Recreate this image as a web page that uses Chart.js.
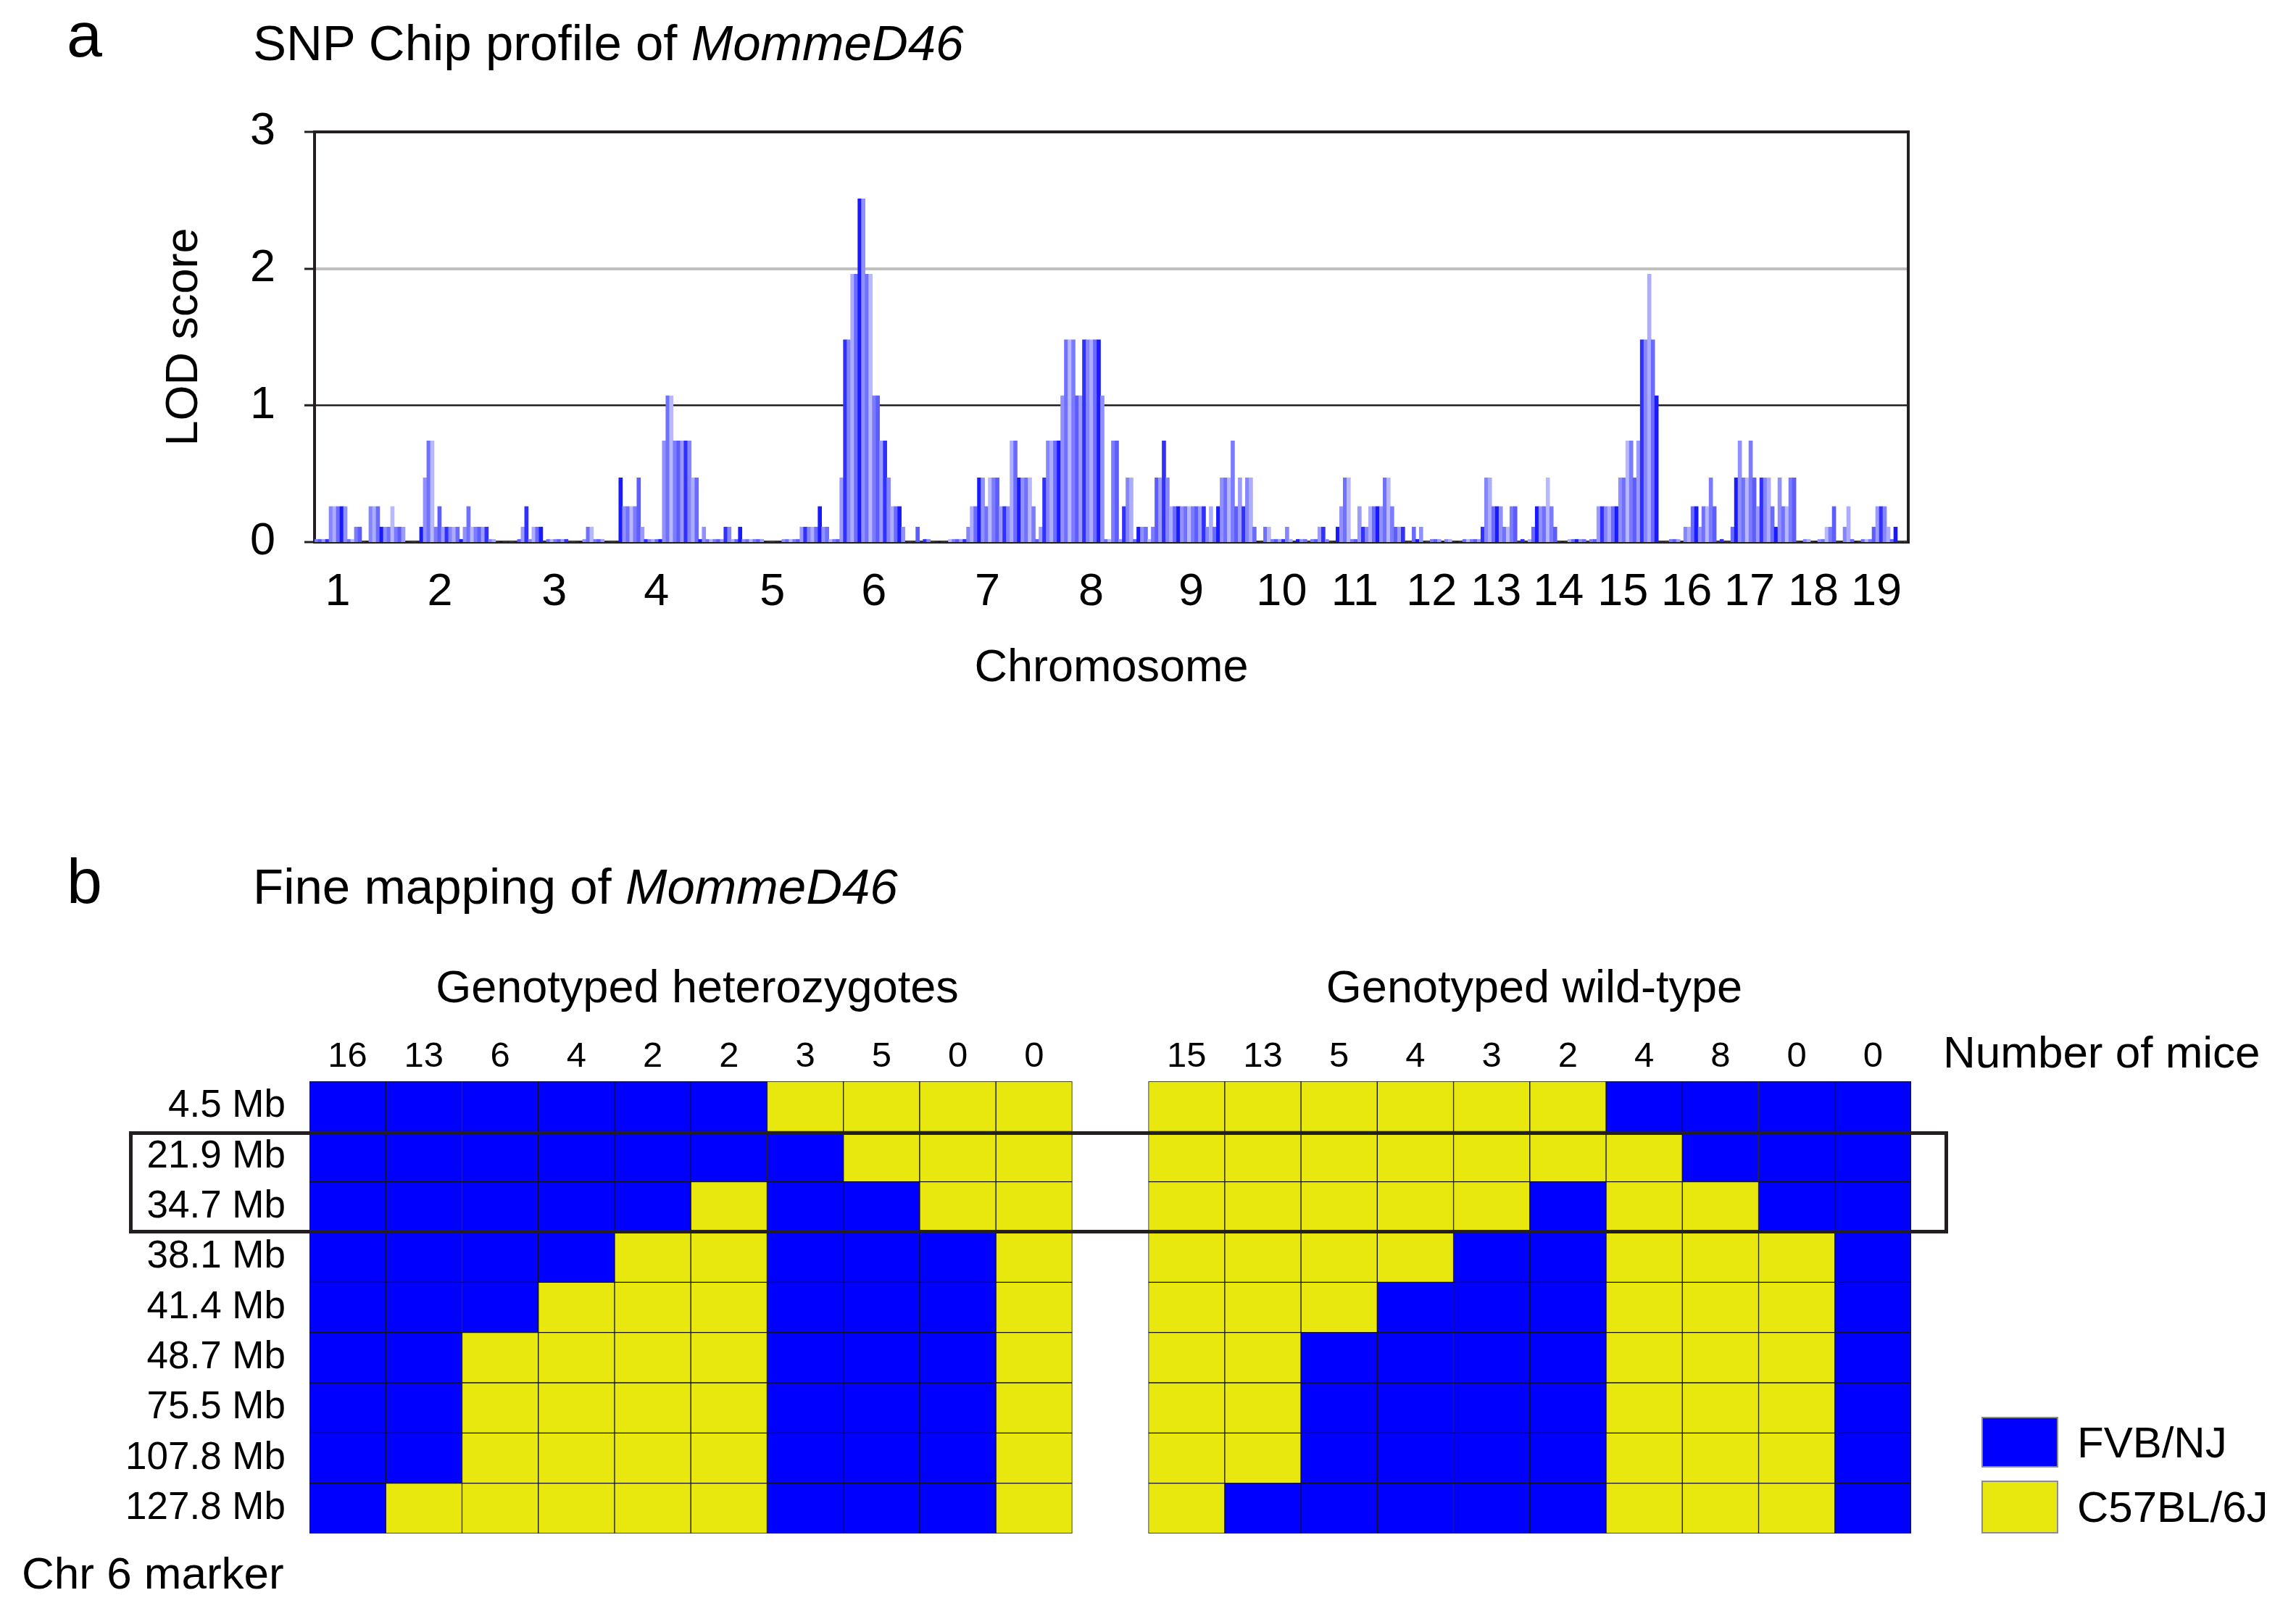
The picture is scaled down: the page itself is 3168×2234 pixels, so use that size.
<!DOCTYPE html>
<html>
<head>
<meta charset="utf-8">
<title>MommeD46 SNP profile and fine mapping</title>
<script src="https://cdn.jsdelivr.net/npm/chart.js@4.4.1/dist/chart.umd.min.js"></script>
<style>
  html, body { margin: 0; padding: 0; background: #fff; }
  body { width: 3168px; height: 2234px; position: relative; overflow: hidden;
         font-family: Arial, "Liberation Sans", sans-serif; color: #000; }
  .txt { position: absolute; line-height: 1; white-space: nowrap; }
  .mid { transform: translateX(-50%); }
  .swatch { position: absolute; box-sizing: border-box; border: 2px solid #8c8c8c; }
  #wrapA { position: absolute; left: 0; top: 0; width: 3168px; height: 1000px; }
  #wrapB { position: absolute; left: 0; top: 1180px; width: 3168px; height: 1054px; }
  #region { position: absolute; left: 178px; top: 1561px; width: 2510px; height: 141px;
            box-sizing: border-box; border: 5px solid #231f20; }
</style>
</head>
<body>
<div class="txt" style="left:92px;top:4px;font-size:88px">a</div>
<div class="txt" style="left:349px;top:25px;font-size:69px">SNP Chip profile of <i>MommeD46</i></div>
<div id="wrapA"><canvas id="lodChart"></canvas></div>

<div class="txt" style="left:92px;top:1172px;font-size:88px">b</div>
<div class="txt" style="left:349px;top:1189px;font-size:69px">Fine mapping of <i>MommeD46</i></div>
<div class="txt mid" style="left:962px;top:1330px;font-size:63px">Genotyped heterozygotes</div>
<div class="txt mid" style="left:2117px;top:1330px;font-size:63px">Genotyped wild-type</div>
<div class="txt" style="left:2681px;top:1421px;font-size:62px">Number of mice</div>
<div id="wrapB"><canvas id="mapChart"></canvas></div>
<div id="region"></div>
<div class="txt" style="left:30px;top:2140px;font-size:62px">Chr 6 marker</div>

<div class="swatch" style="left:2734px;top:1955px;width:106px;height:70px;background:#0000ff"></div>
<div class="swatch" style="left:2734px;top:2043px;width:106px;height:73px;background:#e8e80e"></div>
<div class="txt" style="left:2866px;top:1961px;font-size:60px">FVB/NJ</div>
<div class="txt" style="left:2866px;top:2050px;font-size:60px">C57BL/6J</div>

<script>
// LOD score per genome bin (440 equal bins, chr1 -> chr19)
const lod = [
  0.02, 0.02, 0.02, 0.02, 0.26, 0.26, 0.26, 0.26, 0.26, 0.02,
  0.02, 0.11, 0.11, 0, 0, 0.26, 0.26, 0.26, 0.11, 0.11,
  0.11, 0.26, 0.11, 0.11, 0.11, 0, 0, 0, 0, 0.11,
  0.47, 0.74, 0.74, 0.11, 0.26, 0.11, 0.11, 0.11, 0.11, 0.11,
  0.02, 0.11, 0.26, 0.11, 0.11, 0.11, 0.11, 0.11, 0.02, 0.02,
  0, 0, 0, 0, 0, 0, 0.02, 0.11, 0.26, 0.02,
  0.11, 0.11, 0.11, 0, 0.02, 0.02, 0.02, 0.02, 0.02, 0.02,
  0, 0, 0, 0, 0.02, 0.11, 0.11, 0.02, 0.02, 0.02,
  0, 0, 0, 0, 0.47, 0.26, 0.26, 0.26, 0.26, 0.47,
  0.11, 0.02, 0.02, 0.02, 0.02, 0.02, 0.74, 1.07, 1.07, 0.74,
  0.74, 0.74, 0.74, 0.74, 0.47, 0.47, 0.02, 0.11, 0.02, 0.02,
  0.02, 0.02, 0.02, 0.11, 0.11, 0.02, 0.02, 0.11, 0.02, 0.02,
  0.02, 0.02, 0.02, 0.02, 0, 0, 0, 0, 0, 0.02,
  0.02, 0.02, 0.02, 0.02, 0.11, 0.11, 0.11, 0.11, 0.11, 0.26,
  0.11, 0.11, 0.02, 0.02, 0.02, 0.47, 1.48, 1.48, 1.96, 1.96,
  2.51, 2.51, 1.96, 1.96, 1.07, 1.07, 0.74, 0.74, 0.47, 0.26,
  0.26, 0.26, 0.11, 0, 0, 0, 0.11, 0, 0.02, 0.02,
  0, 0, 0, 0, 0, 0.02, 0.02, 0.02, 0.02, 0.02,
  0.11, 0.26, 0.26, 0.47, 0.47, 0.26, 0.47, 0.47, 0.47, 0.26,
  0.26, 0.26, 0.74, 0.74, 0.47, 0.47, 0.47, 0.47, 0.26, 0.02,
  0.11, 0.47, 0.74, 0.74, 0.74, 0.74, 1.07, 1.48, 1.48, 1.48,
  1.07, 1.07, 1.48, 1.48, 1.48, 1.48, 1.48, 1.07, 0.02, 0.02,
  0.74, 0.74, 0.02, 0.26, 0.47, 0.47, 0.02, 0.11, 0.11, 0.11,
  0.02, 0.11, 0.47, 0.47, 0.74, 0.47, 0.26, 0.26, 0.26, 0.26,
  0.26, 0.26, 0.26, 0.26, 0.26, 0.26, 0.11, 0.26, 0.11, 0.26,
  0.47, 0.47, 0.47, 0.74, 0.26, 0.47, 0.26, 0.47, 0.47, 0.11,
  0, 0, 0.11, 0.11, 0.02, 0.02, 0.02, 0.02, 0.11, 0.02,
  0, 0.02, 0.02, 0.02, 0, 0.02, 0.02, 0.11, 0.11, 0.02,
  0, 0, 0.11, 0.26, 0.47, 0.47, 0.02, 0.02, 0.26, 0.11,
  0.11, 0.26, 0.26, 0.26, 0.26, 0.47, 0.47, 0.26, 0.11, 0.11,
  0.11, 0, 0, 0.11, 0.02, 0.11, 0, 0, 0.02, 0.02,
  0.02, 0, 0.02, 0.02, 0, 0, 0, 0.02, 0.02, 0.02,
  0.02, 0.02, 0.11, 0.47, 0.47, 0.26, 0.26, 0.26, 0.11, 0.11,
  0.26, 0.26, 0, 0.02, 0, 0.02, 0.11, 0.26, 0.26, 0.26,
  0.47, 0.26, 0.11, 0, 0, 0, 0.02, 0.02, 0.02, 0.02,
  0.02, 0, 0.02, 0.02, 0.26, 0.26, 0.26, 0.26, 0.26, 0.26,
  0.47, 0.47, 0.74, 0.74, 0.47, 0.74, 1.48, 1.48, 1.96, 1.48,
  1.07, 0, 0, 0, 0.02, 0.02, 0.02, 0, 0.11, 0.11,
  0.26, 0.26, 0.11, 0.26, 0.26, 0.47, 0.26, 0, 0.02, 0,
  0, 0.11, 0.47, 0.74, 0.47, 0.47, 0.74, 0.47, 0.26, 0.47,
  0.47, 0.47, 0.26, 0.11, 0.47, 0.26, 0.26, 0.47, 0.47, 0,
  0, 0.02, 0.02, 0, 0, 0.02, 0.02, 0.11, 0.11, 0.26,
  0, 0, 0.11, 0.26, 0.02, 0, 0, 0.02, 0.02, 0.02,
  0.11, 0.26, 0.26, 0.26, 0.11, 0.02, 0.11, 0, 0, 0,
];

const chromosomes = ['1', '2', '3', '4', '5', '6', '7', '8', '9', '10',
  '11', '12', '13', '14', '15', '16', '17', '18', '19'];
// where each chromosome label sits along the bin axis
const chromosomeLabelAt = [6.4, 34.6, 66.2, 94.4, 126.4, 154.4, 185.8, 214.4, 242, 267,
  287.2, 308.4, 326.2, 343.4, 361.2, 378.8, 396.2, 413.8, 431.2];
const lodTicks = [0, 1, 2, 3];

// fine mapping: F = FVB/NJ, C = C57BL/6J
const markers = ['4.5 Mb', '21.9 Mb', '34.7 Mb', '38.1 Mb', '41.4 Mb',
  '48.7 Mb', '75.5 Mb', '107.8 Mb', '127.8 Mb'];
const hetCounts = [16, 13, 6, 4, 2, 2, 3, 5, 0, 0];
const wtCounts = [15, 13, 5, 4, 3, 2, 4, 8, 0, 0];
const hetGenotypes = [
  'FFFFFFCCCC',
  'FFFFFFFCCC',
  'FFFFFCFFCC',
  'FFFFCCFFFC',
  'FFFCCCFFFC',
  'FFCCCCFFFC',
  'FFCCCCFFFC',
  'FFCCCCFFFC',
  'FCCCCCFFFC',
];
const wtGenotypes = [
  'CCCCCCFFFF',
  'CCCCCCCFFF',
  'CCCCCFCCFF',
  'CCCCFFCCCF',
  'CCCFFFCCCF',
  'CCFFFFCCCF',
  'CCFFFFCCCF',
  'CCFFFFCCCF',
  'CFFFFFCCCF',
];

const FONT = 'Arial, "Liberation Sans", sans-serif';
const AXIS = '#231f20';
const STRAIN_COLORS = { F: '#0000ff', C: '#e8e80e' };
const barShades = ['#7b7bff', '#5c5cff', '#9a9aff', '#3030ff', '#8585ff', '#adadff',
  '#6a6aff', '#1a1aff', '#9090ff', '#7070ff', '#b8b8ff'];

Chart.defaults.font.family = FONT;
Chart.defaults.color = '#000';
Chart.defaults.animation = false;

const frame = {
  id: 'frame',
  afterDraw(chart) {
    const { ctx, chartArea: a } = chart;
    ctx.save();
    ctx.strokeStyle = AXIS;
    ctx.lineWidth = 4;
    ctx.beginPath();
    ctx.moveTo(a.left - 2, a.top);
    ctx.lineTo(a.right, a.top);
    ctx.lineTo(a.right, a.bottom + 2);
    ctx.stroke();
    ctx.restore();
  },
};

new Chart(document.getElementById('lodChart'), {
  type: 'bar',
  data: {
    datasets: [{
      data: lod.map((v, i) => ({ x: i + 0.5, y: v })),
      backgroundColor: (c) => barShades[c.dataIndex % barShades.length],
      borderWidth: 0,
      barPercentage: 1,
      categoryPercentage: 1,
    }],
  },
  options: {
    responsive: true,
    maintainAspectRatio: false,
    events: [],
    layout: { padding: { top: 182, right: 535, bottom: 0, left: 0 } },
    plugins: { legend: { display: false }, tooltip: { enabled: false } },
    scales: {
      x: {
        type: 'linear',
        min: 0,
        max: lod.length,
        offset: false,
        z: 1,
        afterBuildTicks: (s) => { s.ticks = chromosomeLabelAt.map((v) => ({ value: v })); },
        afterFit: (s) => { s.height = 252; },
        ticks: {
          autoSkip: false,
          maxRotation: 0,
          padding: 32,
          font: { size: 63 },
          callback: (v, i) => chromosomes[i],
        },
        grid: { display: false, drawTicks: false },
        border: { display: true, color: AXIS, width: 4 },
        title: { display: true, text: 'Chromosome', font: { size: 63 }, padding: { top: 0, bottom: 40 } },
      },
      y: {
        min: 0,
        max: 3,
        z: 1,
        afterBuildTicks: (s) => { s.ticks = lodTicks.map((v) => ({ value: v })); },
        afterFit: (s) => { s.width = 434; },
        ticks: { padding: 40, font: { size: 63 } },
        grid: {
          color: (c) => (c.tick.value === 2 ? '#bfbfbf' : AXIS),
          lineWidth: (c) => (c.tick.value === 2 ? 4 : c.tick.value === 1 ? 2.5 : 0),
          tickColor: AXIS,
          tickWidth: 3,
          tickLength: 14,
        },
        border: { display: true, color: AXIS, width: 4 },
        title: { display: true, text: 'LOD score', font: { size: 63 }, padding: { top: 217, bottom: 0 } },
      },
    },
  },
  plugins: [frame],
});

// one stacked dataset per marker row; the empty middle column separates the two groups
const mapColumns = hetCounts.map(String).concat([''], wtCounts.map(String));
const mapRows = markers.map((m, r) => (hetGenotypes[r] + ' ' + wtGenotypes[r]).split(''));

new Chart(document.getElementById('mapChart'), {
  type: 'bar',
  data: {
    labels: mapColumns,
    datasets: mapRows.map((row, r) => ({
      label: markers[r],
      data: row.map((g) => (g === ' ' ? null : 1)),
      backgroundColor: row.map((g) => STRAIN_COLORS[g] || 'rgba(0,0,0,0)'),
      borderColor: '#141414',
      borderWidth: 1,
      borderSkipped: false,
      barPercentage: 1,
      categoryPercentage: 1,
    })),
  },
  options: {
    responsive: true,
    maintainAspectRatio: false,
    events: [],
    layout: { padding: { top: 212, right: 531, bottom: 118, left: 0 } },
    plugins: { legend: { display: false }, tooltip: { enabled: false } },
    scales: {
      x: {
        position: 'top',
        stacked: true,
        afterFit: (s) => { s.height = 100; },
        ticks: { autoSkip: false, maxRotation: 0, padding: 4, font: { size: 49 } },
        grid: { display: false, drawTicks: false },
        border: { display: false },
      },
      y: {
        stacked: true,
        reverse: true,
        min: 0,
        max: markers.length,
        afterBuildTicks: (s) => { s.ticks = markers.map((m, i) => ({ value: i + 0.5 })); },
        afterFit: (s) => { s.width = 427; },
        ticks: { padding: 33, font: { size: 53 }, callback: (v, i) => markers[i] },
        grid: { display: false, drawTicks: false },
        border: { display: false },
      },
    },
  },
});
</script>
</body>
</html>
